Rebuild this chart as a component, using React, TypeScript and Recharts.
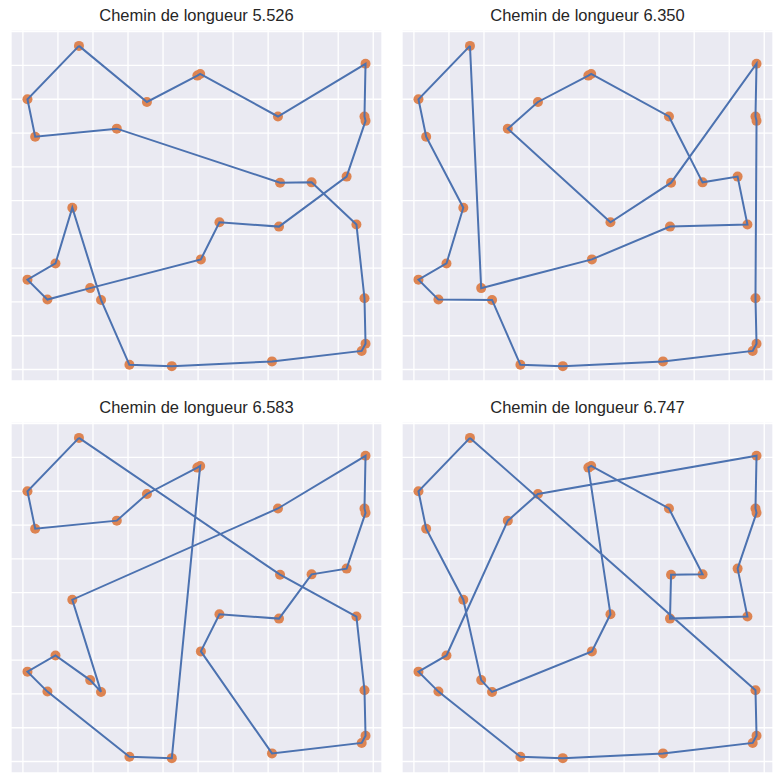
import { ScatterChart, Scatter, XAxis, YAxis, CartesianGrid } from "recharts";

// city coordinates (same cities in every panel)
const cityX = [
  0.16, 0.013, 0.035, 0.268, 0.354, 0.498, 0.506, 0.728, 0.978, 0.975,
  0.978, 0.924, 0.824, 0.734, 0.952, 0.731, 0.561, 0.508, 0.141, 0.093,
  0.013, 0.07, 0.192, 0.223, 0.975, 0.978, 0.967, 0.711, 0.425, 0.304,
];
const cityY = [
  0.958, 0.8, 0.689, 0.713, 0.792, 0.87, 0.875, 0.749, 0.905, 0.749,
  0.736, 0.571, 0.554, 0.553, 0.429, 0.423, 0.436, 0.326, 0.479, 0.314,
  0.266, 0.207, 0.241, 0.206, 0.211, 0.076, 0.055, 0.024, 0.01, 0.014,
];

// visiting order for each tour
const tourA = [0, 1, 2, 3, 13, 12, 14, 24, 25, 26, 27, 28, 29, 23, 18, 19, 20, 21, 22, 17, 16, 15, 11, 10, 9, 8, 7, 6, 5, 4];
const tourB = [0, 22, 17, 15, 14, 11, 12, 7, 6, 5, 4, 3, 16, 13, 8, 9, 10, 24, 25, 26, 27, 28, 29, 23, 21, 20, 19, 18, 2, 1];
const tourC = [0, 1, 2, 3, 4, 5, 6, 28, 29, 21, 20, 19, 22, 23, 18, 7, 8, 9, 10, 11, 12, 15, 16, 17, 27, 26, 25, 24, 14, 13];
const tourD = [0, 1, 2, 18, 22, 23, 17, 16, 5, 6, 7, 12, 13, 15, 14, 11, 10, 9, 8, 4, 3, 19, 20, 21, 29, 28, 27, 26, 25, 24];

const tours = [tourA, tourB, tourC, tourD];
const lengths = ["5.526", "6.350", "6.583", "6.747"];
const gridTicks = [0, 0.1, 0.2, 0.3, 0.4, 0.5, 0.6, 0.7, 0.8, 0.9, 1.0];

const cities = cityX.map((x, i) => ({ x, y: cityY[i] }));

function TourPanel({ tour, length, left, top }: { tour: number[]; length: string; left: number; top: number }) {
  const path = [...tour, tour[0]].map((i) => cities[i]);
  return (
    <>
      <div
        style={{
          position: "absolute",
          left: left,
          top: top - 24,
          width: 371,
          textAlign: "center",
          fontFamily: "'Liberation Sans', Arial, sans-serif",
          fontSize: 16.5,
          color: "#262626",
        }}
      >
        Chemin de longueur {length}
      </div>
      <div style={{ position: "absolute", left, top }}>
        <ScatterChart width={371} height={351} margin={{ top: 0, right: 0, bottom: 0, left: 0 }}>
          <CartesianGrid fill="#EAEAF2" stroke="#ffffff" strokeWidth={1.3} />
          <XAxis type="number" dataKey="x" domain={[-0.034, 1.025]} ticks={gridTicks} hide />
          <YAxis type="number" dataKey="y" domain={[-0.034, 1.005]} ticks={gridTicks} hide />
          <Scatter data={cities} fill="#DD8452" shape={(p: any) => <circle cx={p.cx} cy={p.cy} r={5} fill="#DD8452" />} isAnimationActive={false} />
          <Scatter
            data={path}
            line={{ stroke: "#4C72B0", strokeWidth: 2 }}
            lineType="joint"
            shape={() => <g />}
            isAnimationActive={false}
          />
        </ScatterChart>
      </div>
    </>
  );
}

export default function App() {
  return (
    <div style={{ position: "absolute", left: 0, top: 0, width: 784, height: 784, background: "#fff" }}>
      <TourPanel tour={tours[0]} length={lengths[0]} left={11} top={30} />
      <TourPanel tour={tours[1]} length={lengths[1]} left={402} top={30} />
      <TourPanel tour={tours[2]} length={lengths[2]} left={11} top={422} />
      <TourPanel tour={tours[3]} length={lengths[3]} left={402} top={422} />
    </div>
  );
}
